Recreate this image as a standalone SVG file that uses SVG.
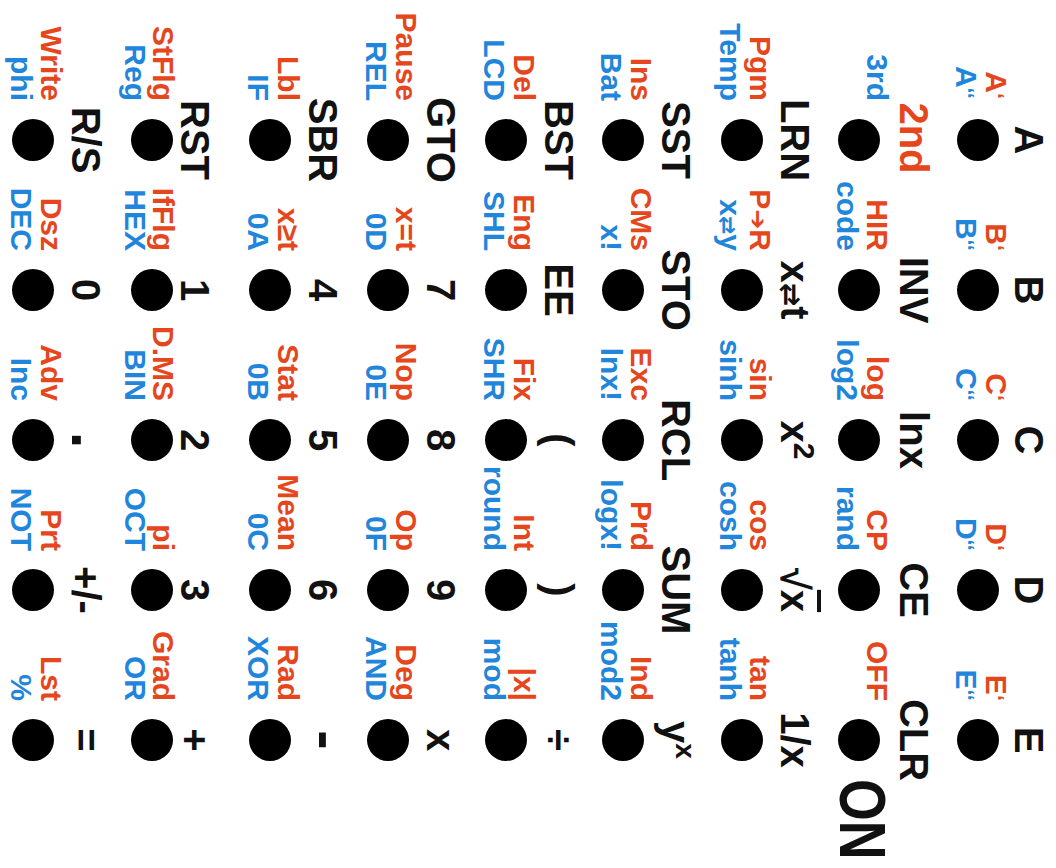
<svg xmlns="http://www.w3.org/2000/svg" width="1056" height="868" viewBox="0 0 1056 868">
<style>
.bg{fill:#ffffff}
.dot{fill:#000000}
.m{font-family:"Liberation Sans",Arial,sans-serif;font-weight:bold;font-size:40px;fill:#111111;text-anchor:middle}
.r{font-family:"Liberation Sans",Arial,sans-serif;font-weight:bold;font-size:30px;fill:#E5461C;text-anchor:end}
.b{font-family:"Liberation Sans",Arial,sans-serif;font-weight:bold;font-size:30px;fill:#1F86DB;text-anchor:end}
.q{font-size:22px}
.sym{font-family:"DejaVu Sans",sans-serif;font-weight:bold}
</style>
<rect class="bg" x="0" y="0" width="1056" height="868"/>
<g id="keyboard" transform="matrix(0,1,-1,0,1056,0)">
<!-- Row 1 -->
<g id="key-A"><circle class="dot" cx="140" cy="78" r="21"/><text class="m" x="140" y="41">A</text><text class="r" x="99" y="70">A<tspan class="q" dy="-3">‘</tspan></text><text class="b" x="99" y="100">A<tspan class="q" dy="-3">‘‘</tspan></text></g>
<g id="key-B"><circle class="dot" cx="290" cy="78" r="21"/><text class="m" x="290" y="41">B</text><text class="r" x="251" y="70">B<tspan class="q" dy="-3">‘</tspan></text><text class="b" x="251" y="100">B<tspan class="q" dy="-3">‘‘</tspan></text></g>
<g id="key-C"><circle class="dot" cx="440" cy="78" r="21"/><text class="m" x="440" y="41">C</text><text class="r" x="401" y="70">C<tspan class="q" dy="-3">‘</tspan></text><text class="b" x="401" y="100">C<tspan class="q" dy="-3">‘‘</tspan></text></g>
<g id="key-D"><circle class="dot" cx="590" cy="78" r="21"/><text class="m" x="590" y="41">D</text><text class="r" x="551" y="70">D<tspan class="q" dy="-3">‘</tspan></text><text class="b" x="551" y="100">D<tspan class="q" dy="-3">‘‘</tspan></text></g>
<g id="key-E"><circle class="dot" cx="740" cy="78" r="21"/><text class="m" x="740" y="41">E</text><text class="r" x="701" y="70">E<tspan class="q" dy="-3">‘</tspan></text><text class="b" x="701" y="100">E<tspan class="q" dy="-3">‘‘</tspan></text></g>
<!-- Row 2 -->
<g id="key-2nd"><circle class="dot" cx="140" cy="197" r="21"/><text class="m" x="138" y="156" style="fill:#E5461C">2nd</text><text class="b" x="101" y="189">3rd</text></g>
<g id="key-INV"><circle class="dot" cx="290" cy="197" r="21"/><text class="m" x="290" y="156">INV</text><text class="r" x="251" y="189">HIR</text><text class="b" x="251" y="219">code</text></g>
<g id="key-lnx"><circle class="dot" cx="440" cy="197" r="21"/><text class="m" x="440" y="156">lnx</text><text class="r" x="401" y="189">log</text><text class="b" x="401" y="219">log2</text></g>
<g id="key-CE"><circle class="dot" cx="590" cy="197" r="21"/><text class="m" x="590" y="156">CE</text><text class="r" x="551" y="189">CP</text><text class="b" x="551" y="219">rand</text></g>
<g id="key-CLR"><circle class="dot" cx="740" cy="197" r="21"/><text class="m" x="740" y="156">CLR</text><text class="r" x="701" y="189">OFF</text><text class="m" transform="translate(779,216) scale(0.84,1)" x="0" y="0" style="font-size:64px;text-anchor:start">ON</text></g>
<!-- Row 3 -->
<g id="key-LRN"><circle class="dot" cx="140" cy="314" r="21"/><text class="m" x="140" y="275">LRN</text><text class="r" x="101" y="306">Pgm</text><text class="b" x="101" y="336">Temp</text></g>
<g id="key-xt"><circle class="dot" cx="290" cy="314" r="21"/><text class="m" x="290" y="275">x<tspan class="sym" font-size="28">⇄</tspan>t</text><text class="r" x="251" y="306">P<tspan class="sym" font-size="24">➔</tspan>R</text><text class="b" x="251" y="336">x<tspan class="sym" font-size="22">⇄</tspan>y</text></g>
<g id="key-x2"><circle class="dot" cx="440" cy="314" r="21"/><text class="m" x="440" y="275">x<tspan font-size="30" dy="-13">2</tspan></text><text class="r" x="401" y="306">sin</text><text class="b" x="401" y="336">sinh</text></g>
<g id="key-sqrt"><circle class="dot" cx="590" cy="314" r="21"/><text class="m" x="590" y="275">√<tspan style="text-decoration:overline">x</tspan></text><text class="r" x="551" y="306">cos</text><text class="b" x="551" y="336">cosh</text></g>
<g id="key-inv-x"><circle class="dot" cx="740" cy="314" r="21"/><text class="m" x="740" y="275">1/x</text><text class="r" x="701" y="306">tan</text><text class="b" x="701" y="336">tanh</text></g>
<!-- Row 4 -->
<g id="key-SST"><circle class="dot" cx="140" cy="433" r="21"/><text class="m" x="140" y="394">SST</text><text class="r" x="101" y="425">Ins</text><text class="b" x="101" y="455">Bat</text></g>
<g id="key-STO"><circle class="dot" cx="290" cy="433" r="21"/><text class="m" x="290" y="394">STO</text><text class="r" x="251" y="425">CMs</text><text class="b" x="251" y="455">x!</text></g>
<g id="key-RCL"><circle class="dot" cx="440" cy="433" r="21"/><text class="m" x="440" y="394">RCL</text><text class="r" x="401" y="425">Exc</text><text class="b" x="401" y="455">lnx!</text></g>
<g id="key-SUM"><circle class="dot" cx="590" cy="433" r="21"/><text class="m" x="590" y="394">SUM</text><text class="r" x="551" y="425">Prd</text><text class="b" x="551" y="455">logx!</text></g>
<g id="key-yx"><circle class="dot" cx="740" cy="433" r="21"/><text class="m" x="740" y="394">y<tspan font-size="28" dy="-14">x</tspan></text><text class="r" x="701" y="425">Ind</text><text class="b" x="701" y="455">mod2</text></g>
<!-- Row 5 -->
<g id="key-BST"><circle class="dot" cx="140" cy="550" r="21"/><text class="m" x="140" y="511">BST</text><text class="r" x="101" y="542">Del</text><text class="b" x="101" y="572">LCD</text></g>
<g id="key-EE"><circle class="dot" cx="290" cy="550" r="21"/><text class="m" x="290" y="511">EE</text><text class="r" x="251" y="542">Eng</text><text class="b" x="251" y="572">SHL</text></g>
<g id="key-lparen"><circle class="dot" cx="440" cy="550" r="21"/><text class="m" x="440" y="511">(</text><text class="r" x="401" y="542">Fix</text><text class="b" x="401" y="572">SHR</text></g>
<g id="key-rparen"><circle class="dot" cx="590" cy="550" r="21"/><text class="m" x="590" y="511">)</text><text class="r" x="551" y="542">Int</text><text class="b" x="551" y="572">round</text></g>
<g id="key-div"><circle class="dot" cx="740" cy="550" r="21"/><text class="m" x="740" y="511">÷</text><text class="r" x="701" y="542">|x|</text><text class="b" x="701" y="572">mod</text></g>
<!-- Row 6 -->
<g id="key-GTO"><circle class="dot" cx="140" cy="668" r="21"/><text class="m" x="140" y="629">GTO</text><text class="r" x="101" y="660">Pause</text><text class="b" x="101" y="690">REL</text></g>
<g id="key-7"><circle class="dot" cx="290" cy="668" r="21"/><text class="m" x="290" y="629">7</text><text class="r" x="251" y="660">x=t</text><text class="b" x="251" y="690">0D</text></g>
<g id="key-8"><circle class="dot" cx="440" cy="668" r="21"/><text class="m" x="440" y="629">8</text><text class="r" x="401" y="660">Nop</text><text class="b" x="401" y="690">0E</text></g>
<g id="key-9"><circle class="dot" cx="590" cy="668" r="21"/><text class="m" x="590" y="629">9</text><text class="r" x="551" y="660">Op</text><text class="b" x="551" y="690">0F</text></g>
<g id="key-mul"><circle class="dot" cx="740" cy="668" r="21"/><text class="m" x="740" y="629">x</text><text class="r" x="701" y="660">Deg</text><text class="b" x="701" y="690">AND</text></g>
<!-- Row 7 -->
<g id="key-SBR"><circle class="dot" cx="140" cy="786" r="21"/><text class="m" x="140" y="747">SBR</text><text class="r" x="101" y="778">Lbl</text><text class="b" x="101" y="808">IF</text></g>
<g id="key-4"><circle class="dot" cx="290" cy="786" r="21"/><text class="m" x="290" y="747">4</text><text class="r" x="251" y="778">x≥t</text><text class="b" x="251" y="808">0A</text></g>
<g id="key-5"><circle class="dot" cx="440" cy="786" r="21"/><text class="m" x="440" y="747">5</text><text class="r" x="401" y="778">Stat</text><text class="b" x="401" y="808">0B</text></g>
<g id="key-6"><circle class="dot" cx="590" cy="786" r="21"/><text class="m" x="590" y="747">6</text><text class="r" x="551" y="778">Mean</text><text class="b" x="551" y="808">0C</text></g>
<g id="key-minus"><circle class="dot" cx="740" cy="786" r="21"/><text class="m" x="740" y="749" style="font-size:58px">-</text><text class="r" x="701" y="778">Rad</text><text class="b" x="701" y="808">XOR</text></g>
<!-- Row 8 -->
<g id="key-RST"><circle class="dot" cx="140" cy="904" r="21"/><text class="m" x="140" y="875">RST</text><text class="r" x="101" y="903">StFlg</text><text class="b" x="101" y="931">Reg</text></g>
<g id="key-1"><circle class="dot" cx="290" cy="904" r="21"/><text class="m" x="290" y="875">1</text><text class="r" x="251" y="903">IfFlg</text><text class="b" x="251" y="931">HEX</text></g>
<g id="key-2"><circle class="dot" cx="440" cy="904" r="21"/><text class="m" x="440" y="875">2</text><text class="r" x="401" y="903">D.MS</text><text class="b" x="401" y="931">BIN</text></g>
<g id="key-3"><circle class="dot" cx="590" cy="904" r="21"/><text class="m" x="590" y="875">3</text><text class="r" x="551" y="903">pi</text><text class="b" x="551" y="931">OCT</text></g>
<g id="key-plus"><circle class="dot" cx="740" cy="904" r="21"/><text class="m" x="740" y="875">+</text><text class="r" x="701" y="903">Grad</text><text class="b" x="701" y="931">OR</text></g>
<!-- Row 9 -->
<g id="key-RS"><circle class="dot" cx="140" cy="1023" r="21"/><text class="m" x="140" y="984">R/S</text><text class="r" x="101" y="1015">Write</text><text class="b" x="101" y="1045">phi</text></g>
<g id="key-0"><circle class="dot" cx="290" cy="1023" r="21"/><text class="m" x="290" y="984">0</text><text class="r" x="251" y="1015">Dsz</text><text class="b" x="251" y="1045">DEC</text></g>
<g id="key-dot"><circle class="dot" cx="440" cy="1023" r="21"/><text class="m" x="440" y="984" style="font-size:60px">.</text><text class="r" x="401" y="1015">Adv</text><text class="b" x="401" y="1045">Inc</text></g>
<g id="key-chs"><circle class="dot" cx="590" cy="1023" r="21"/><text class="m" x="590" y="984">+/-</text><text class="r" x="551" y="1015">Prt</text><text class="b" x="551" y="1045">NOT</text></g>
<g id="key-eq"><circle class="dot" cx="740" cy="1023" r="21"/><text class="m" x="740" y="984">=</text><text class="r" x="701" y="1015">Lst</text><text class="b" x="701" y="1045">%</text></g>
</g>
<g id="connectors"/>
</svg>
